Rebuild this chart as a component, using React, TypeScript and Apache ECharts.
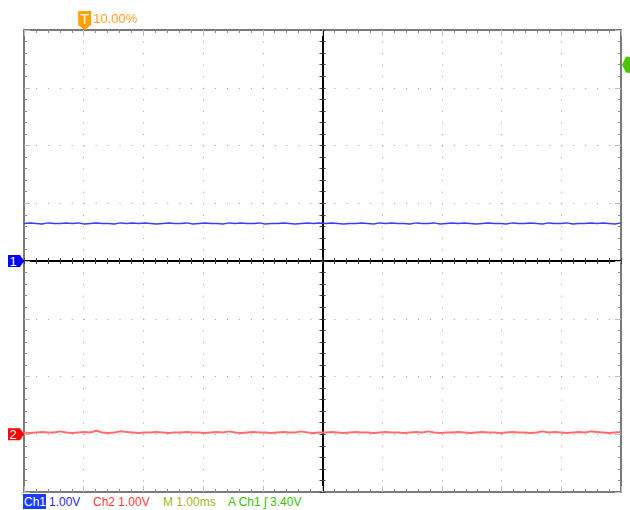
import React, { useEffect, useRef } from "react";
import * as echarts from "echarts";

// Screen: 10 horizontal divisions (1.00 ms/div), 8 vertical divisions (1.00 V/div)
const timeRangeMs = [-5, 5]; // relative to screen centre
const divRange = [-4, 4];
const ch1VoltsPerDiv = 1.0;
const ch2VoltsPerDiv = 1.0;
const ch1GroundDiv = 0;
const ch2GroundDiv = -3;
const triggerTimeMs = -4; // 10.00% of record
const triggerLevelV = 3.4;

const ch1Volts = [
  0.65, 0.66, 0.65, 0.64, 0.66, 0.65, 0.65, 0.66, 0.65, 0.66,
  0.64, 0.65, 0.66, 0.65, 0.65, 0.64, 0.66, 0.65, 0.66, 0.65,
  0.66, 0.65, 0.64, 0.65, 0.66, 0.65, 0.65, 0.66, 0.64, 0.65,
  0.66, 0.65, 0.65, 0.64, 0.66, 0.65, 0.66, 0.65, 0.65, 0.66,
  0.64, 0.65, 0.65, 0.66, 0.65, 0.64, 0.65, 0.66, 0.65, 0.66,
  0.65, 0.66, 0.65, 0.64, 0.65, 0.65, 0.66, 0.65, 0.64, 0.66,
  0.65, 0.66, 0.65, 0.65, 0.64, 0.66, 0.65, 0.65, 0.66, 0.64,
  0.65, 0.66, 0.65, 0.66, 0.65, 0.64, 0.65, 0.66, 0.65, 0.65,
  0.64, 0.66, 0.65, 0.65, 0.66, 0.65, 0.64, 0.66, 0.65, 0.65,
  0.66, 0.64, 0.65, 0.65, 0.66, 0.65, 0.66, 0.65, 0.64, 0.66,
];

const ch2Volts = [
  0.03, 0.02, 0.03, 0.04, 0.03, 0.03, 0.05, 0.03, 0.02, 0.03,
  0.04, 0.03, 0.06, 0.03, 0.02, 0.03, 0.05, 0.04, 0.03, 0.02,
  0.03, 0.03, 0.04, 0.03, 0.02, 0.03, 0.03, 0.04, 0.03, 0.03,
  0.02, 0.03, 0.04, 0.03, 0.05, 0.03, 0.02, 0.03, 0.04, 0.03,
  0.03, 0.02, 0.03, 0.04, 0.03, 0.03, 0.05, 0.03, 0.02, 0.03,
  0.03, 0.04, 0.03, 0.02, 0.03, 0.04, 0.03, 0.03, 0.02, 0.03,
  0.04, 0.03, 0.03, 0.02, 0.03, 0.04, 0.03, 0.05, 0.03, 0.02,
  0.03, 0.03, 0.04, 0.03, 0.02, 0.03, 0.04, 0.03, 0.03, 0.02,
  0.03, 0.04, 0.03, 0.03, 0.02, 0.03, 0.05, 0.03, 0.04, 0.03,
  0.02, 0.03, 0.04, 0.03, 0.05, 0.04, 0.03, 0.02, 0.03, 0.04,
];

const readoutTexts = ["Ch1", "1.00V", "Ch2 1.00V", "M 1.00ms", "A Ch1 \u0283 3.40V"];
const triggerPositionText = "10.00%";

const FONT = '"Liberation Sans", Arial, sans-serif';

function sampleTime(i: number, n: number) {
  return timeRangeMs[0] + ((timeRangeMs[1] - timeRangeMs[0]) * i) / (n - 1);
}

const borderAxisCommon = {
  type: "value",
  interval: 1,
  axisLine: { show: true, onZero: false, lineStyle: { color: "#7a7a7a", width: 2 } },
  axisTick: { show: true, inside: true, length: 6, lineStyle: { color: "#bcbcbc", width: 1 } },
  minorTick: { show: true, splitNumber: 5, length: 3, lineStyle: { color: "#8a8a8a", width: 1 } },
  axisLabel: { show: false },
  splitLine: { show: false },
};

const centreAxisCommon = (inside: boolean) => ({
  type: "value",
  interval: 1,
  axisLine: { show: true, onZero: true, onZeroAxisIndex: 0, lineStyle: { color: "#000000", width: 2 } },
  axisTick: { show: true, inside, length: 3, lineStyle: { color: "#404040", width: 1 } },
  minorTick: { show: true, splitNumber: 5, length: 3, lineStyle: { color: "#404040", width: 1 } },
  axisLabel: { show: false },
  splitLine: { show: false },
});

export default function App() {
  const ref = useRef<HTMLDivElement>(null);

  useEffect(() => {
    document.body.style.margin = "0";
    if (!ref.current) return;
    const chart = echarts.init(ref.current, undefined, { renderer: "svg" });

    const xCommon = { min: timeRangeMs[0], max: timeRangeMs[1] };
    const yCommon = { min: divRange[0], max: divRange[1] };

    const rightArrow = "path://M0,0 L12,0 L16,6 L12,12 L0,12 Z";
    const downArrow = "path://M0,0 L13,0 L13,14 L6.5,19 L0,14 Z";
    const leftArrow = "path://M4,0 L12,0 L12,16 L4,16 L0,8 Z";

    const textStyle = (text: string, fill: string) => ({
      text,
      fill,
      font: `12px ${FONT}`,
      verticalAlign: "middle",
      textVerticalAlign: "middle",
    });

    const option: any = {
      animation: false,
      backgroundColor: "#ffffff",
      grid: { left: 24, top: 30, width: 597, height: 462, outerBoundsMode: "none", containLabel: false },
      xAxis: [
        {
          ...borderAxisCommon,
          ...xCommon,
          position: "bottom",
          splitLine: { show: true, lineStyle: { color: "#a0a0a0", width: 1, type: [1, 10.55] } },
        },
        { ...borderAxisCommon, ...xCommon, position: "top" },
        { ...centreAxisCommon(true), ...xCommon, position: "bottom" },
        { ...centreAxisCommon(false), ...xCommon, position: "bottom" },
      ],
      yAxis: [
        {
          ...borderAxisCommon,
          ...yCommon,
          position: "left",
          splitLine: { show: true, lineStyle: { color: "#a0a0a0", width: 1, type: [1, 10.94] } },
        },
        { ...borderAxisCommon, ...yCommon, position: "right" },
        { ...centreAxisCommon(true), ...yCommon, position: "left" },
        { ...centreAxisCommon(false), ...yCommon, position: "left" },
      ],
      series: [
        {
          name: "Ch1",
          type: "line",
          xAxisIndex: 0,
          yAxisIndex: 0,
          symbol: "none",
          silent: true,
          z: 3,
          lineStyle: { color: "#3c3cff", width: 1.5 },
          data: ch1Volts.map((v, i) => [sampleTime(i, ch1Volts.length), ch1GroundDiv + v / ch1VoltsPerDiv]),
          markPoint: {
            silent: true,
            data: [
              {
                coord: [timeRangeMs[0], ch1GroundDiv],
                symbol: rightArrow,
                symbolSize: [16, 12],
                symbolOffset: [-8, 0],
                itemStyle: { color: "#0000ff" },
                label: { show: true, formatter: "1", color: "#ffffff", fontSize: 13, fontFamily: FONT, offset: [-3, 0] },
              },
              {
                coord: [triggerTimeMs, divRange[1]],
                symbol: downArrow,
                symbolSize: [13, 19],
                symbolOffset: [1, -9.5],
                itemStyle: { color: "#ffa000" },
                label: { show: true, formatter: "T", color: "#ffffff", fontSize: 14, fontFamily: FONT, offset: [0, -2] },
              },
              {
                coord: [triggerTimeMs, divRange[1]],
                symbol: "rect",
                symbolSize: 1,
                itemStyle: { color: "rgba(0,0,0,0)" },
                label: { show: true, position: "right", distance: 5, formatter: triggerPositionText, color: "#ffa020", fontSize: 13, fontFamily: FONT, offset: [4, -12] },
              },
              {
                coord: [timeRangeMs[1], ch1GroundDiv + triggerLevelV / ch1VoltsPerDiv],
                symbol: leftArrow,
                symbolSize: [12, 16],
                symbolOffset: [7, 0],
                itemStyle: { color: "#4cc400" },
                label: { show: false },
              },
            ],
          },
        },
        {
          name: "Ch2",
          type: "line",
          xAxisIndex: 0,
          yAxisIndex: 0,
          symbol: "none",
          silent: true,
          z: 3,
          lineStyle: { color: "#ff6c6c", width: 2 },
          data: ch2Volts.map((v, i) => [sampleTime(i, ch2Volts.length), ch2GroundDiv + v / ch2VoltsPerDiv]),
          markPoint: {
            silent: true,
            data: [
              {
                coord: [timeRangeMs[0], ch2GroundDiv],
                symbol: rightArrow,
                symbolSize: [16, 12],
                symbolOffset: [-8, 0],
                itemStyle: { color: "#ff0000" },
                label: { show: true, formatter: "2", color: "#ffffff", fontSize: 13, fontFamily: FONT, offset: [-3, 0] },
              },
            ],
          },
        },
      ],
      graphic: [
        { type: "rect", shape: { x: 23, y: 494, width: 23, height: 15 }, style: { fill: "#1a3cff" } },
        { type: "text", x: 24, y: 502, style: textStyle(readoutTexts[0], "#ffffff") },
        { type: "text", x: 49, y: 502, style: textStyle(readoutTexts[1], "#2828e6") },
        { type: "text", x: 93, y: 502, style: textStyle(readoutTexts[2], "#ff3a3a") },
        { type: "text", x: 163, y: 502, style: textStyle(readoutTexts[3], "#a4b41c") },
        { type: "text", x: 228, y: 502, style: textStyle(readoutTexts[4], "#3cc000") },
      ],
    };

    chart.setOption(option);
    return () => chart.dispose();
  }, []);

  return (
    <div
      ref={ref}
      style={{ position: "fixed", left: 0, top: 0, width: 630, height: 510, background: "#ffffff" }}
    />
  );
}
